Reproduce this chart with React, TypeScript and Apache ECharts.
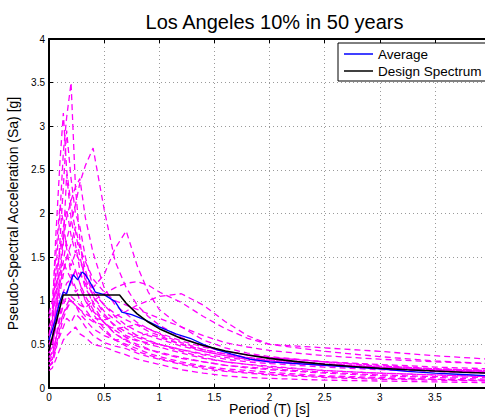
import React, { useEffect, useRef } from "react";
import * as echarts from "echarts";

const periods = [0, 0.03, 0.06, 0.1, 0.13, 0.16, 0.2, 0.24, 0.28, 0.33, 0.4, 0.5, 0.6, 0.7, 0.8, 0.9, 1.0, 1.2, 1.4, 1.6, 1.8, 2.0, 2.5, 3.0, 3.5, 4.0];

const rec01 = [0.55, 0.75, 1.3, 2.0, 2.7, 3.1, 3.5, 2.3, 1.7, 1.2, 0.95, 0.75, 0.62, 0.55, 0.5, 0.45, 0.4, 0.34, 0.3, 0.26, 0.23, 0.21, 0.17, 0.14, 0.12, 0.1];
const rec02 = [0.6, 0.85, 1.7, 2.6, 3.15, 2.5, 2.1, 1.8, 1.5, 1.25, 1.05, 0.85, 0.7, 0.6, 0.55, 0.5, 0.47, 0.4, 0.34, 0.3, 0.27, 0.25, 0.2, 0.17, 0.15, 0.13];
const rec03 = [0.4, 0.5, 0.95, 1.7, 2.3, 2.95, 2.4, 2.0, 1.85, 1.5, 1.15, 0.95, 0.85, 0.78, 0.72, 0.65, 0.6, 0.5, 0.42, 0.37, 0.33, 0.3, 0.26, 0.22, 0.2, 0.18];
const rec04 = [0.5, 0.55, 0.8, 1.2, 1.45, 1.7, 1.9, 2.1, 2.35, 2.55, 2.75, 2.05, 1.45, 1.15, 0.95, 0.82, 0.72, 0.58, 0.48, 0.42, 0.38, 0.35, 0.3, 0.25, 0.22, 0.2];
const rec05 = [0.45, 0.55, 0.9, 1.4, 1.7, 1.95, 2.15, 2.3, 2.4, 1.95, 1.55, 1.15, 0.95, 0.85, 0.75, 0.68, 0.62, 0.52, 0.44, 0.39, 0.35, 0.32, 0.27, 0.23, 0.21, 0.19];
const rec06 = [0.3, 0.33, 0.55, 0.85, 1.0, 1.1, 1.2, 1.35, 1.3, 1.2, 1.15, 1.3, 1.6, 1.8, 1.4, 1.1, 0.9, 0.7, 0.55, 0.46, 0.4, 0.36, 0.3, 0.26, 0.22, 0.2];
const rec07 = [0.85, 1.0, 1.5, 2.1, 1.9, 1.6, 1.3, 1.15, 1.0, 0.9, 0.78, 0.65, 0.55, 0.5, 0.45, 0.4, 0.36, 0.3, 0.25, 0.22, 0.2, 0.18, 0.14, 0.12, 0.1, 0.08];
const rec08 = [0.35, 0.42, 0.75, 1.1, 1.3, 1.5, 1.65, 1.85, 1.6, 1.45, 1.25, 1.1, 1.0, 0.95, 0.9, 0.85, 0.8, 0.7, 0.6, 0.52, 0.47, 0.43, 0.37, 0.33, 0.3, 0.28];
const rec09 = [0.3, 0.33, 0.45, 0.7, 0.85, 0.95, 1.05, 1.0, 0.95, 0.92, 1.0, 1.08, 1.15, 1.2, 1.22, 1.18, 1.1, 0.98, 0.82, 0.68, 0.57, 0.5, 0.46, 0.42, 0.37, 0.33];
const rec10 = [0.25, 0.28, 0.42, 0.65, 0.8, 0.9, 1.0, 0.95, 0.9, 0.85, 0.8, 0.78, 0.82, 0.88, 0.95, 1.0, 1.05, 1.08, 0.95, 0.76, 0.6, 0.5, 0.42, 0.36, 0.31, 0.28];
const rec11 = [0.2, 0.23, 0.32, 0.45, 0.55, 0.6, 0.65, 0.7, 0.62, 0.58, 0.5, 0.47, 0.42, 0.38, 0.33, 0.3, 0.27, 0.21, 0.17, 0.14, 0.12, 0.11, 0.09, 0.08, 0.07, 0.06];
const rec12 = [0.6, 0.7, 1.15, 1.6, 1.85, 2.05, 1.75, 1.55, 1.65, 1.35, 1.05, 0.88, 0.78, 0.68, 0.6, 0.55, 0.5, 0.42, 0.35, 0.3, 0.27, 0.24, 0.2, 0.17, 0.15, 0.13];
const rec13 = [0.7, 0.8, 1.15, 1.35, 1.45, 1.35, 1.25, 1.35, 1.2, 1.0, 0.88, 0.75, 0.66, 0.58, 0.54, 0.52, 0.5, 0.44, 0.38, 0.33, 0.3, 0.28, 0.24, 0.21, 0.19, 0.17];
const rec14 = [0.4, 0.48, 0.68, 0.95, 1.1, 1.2, 1.25, 1.1, 1.15, 1.0, 0.85, 0.68, 0.55, 0.48, 0.42, 0.38, 0.34, 0.28, 0.24, 0.2, 0.18, 0.16, 0.13, 0.11, 0.1, 0.09];
const rec15 = [0.5, 0.6, 0.85, 1.3, 1.65, 2.45, 1.95, 1.65, 1.35, 1.15, 0.98, 0.82, 0.72, 0.64, 0.58, 0.54, 0.5, 0.44, 0.39, 0.35, 0.32, 0.3, 0.26, 0.23, 0.2, 0.18];
const rec16 = [0.3, 0.38, 0.55, 0.8, 0.95, 1.05, 1.0, 0.95, 0.9, 0.82, 0.76, 0.72, 0.68, 0.7, 0.73, 0.68, 0.63, 0.54, 0.47, 0.42, 0.38, 0.35, 0.3, 0.27, 0.24, 0.22];
const rec17 = [0.8, 0.9, 1.3, 1.55, 1.75, 1.65, 1.5, 1.35, 1.2, 1.05, 0.9, 0.75, 0.62, 0.54, 0.48, 0.44, 0.41, 0.35, 0.3, 0.26, 0.24, 0.22, 0.18, 0.15, 0.13, 0.12];
const rec18 = [0.35, 0.4, 0.55, 0.75, 0.85, 0.92, 1.0, 0.95, 0.85, 0.78, 0.68, 0.6, 0.55, 0.56, 0.6, 0.62, 0.58, 0.5, 0.44, 0.39, 0.35, 0.32, 0.28, 0.24, 0.21, 0.19];
const rec19 = [0.25, 0.3, 0.5, 0.6, 0.7, 0.8, 0.75, 0.85, 0.8, 0.7, 0.6, 0.52, 0.48, 0.45, 0.4, 0.36, 0.33, 0.27, 0.22, 0.19, 0.17, 0.15, 0.12, 0.1, 0.09, 0.08];
const rec20 = [0.45, 0.55, 0.9, 1.2, 1.35, 1.5, 1.4, 1.55, 1.45, 1.3, 1.1, 0.95, 0.82, 0.72, 0.65, 0.6, 0.56, 0.48, 0.42, 0.37, 0.34, 0.31, 0.27, 0.24, 0.22, 0.2];

const records = [rec01, rec02, rec03, rec04, rec05, rec06, rec07, rec08, rec09, rec10, rec11, rec12, rec13, rec14, rec15, rec16, rec17, rec18, rec19, rec20];

const avgPeriods = [0, 0.05, 0.1, 0.13, 0.16, 0.19, 0.22, 0.26, 0.3, 0.33, 0.36, 0.42, 0.5, 0.6, 0.66, 0.75, 0.87, 1.0, 1.15, 1.28, 1.4, 1.52, 1.65, 1.82, 2.0, 2.25, 2.5, 2.75, 3.0, 3.25, 3.5, 3.75, 4.0];
const avgValues = [0.55, 0.75, 1.0, 1.1, 1.08, 1.2, 1.3, 1.24, 1.33, 1.3, 1.24, 1.1, 1.07, 0.99, 0.87, 0.84, 0.78, 0.7, 0.62, 0.57, 0.5, 0.44, 0.39, 0.33, 0.3, 0.28, 0.26, 0.24, 0.22, 0.19, 0.17, 0.155, 0.14];

const designPeriods = [0, 0.128, 0.64, 0.7, 0.8, 0.9, 1.0, 1.2, 1.4, 1.6, 1.8, 2.0, 2.25, 2.5, 2.75, 3.0, 3.25, 3.5, 3.75, 4.0];
const designValues = [0.43, 1.066, 1.066, 0.971, 0.85, 0.756, 0.68, 0.567, 0.486, 0.425, 0.378, 0.34, 0.302, 0.272, 0.247, 0.227, 0.209, 0.194, 0.181, 0.17];

const FONT = "Liberation Sans, Arial, Helvetica, sans-serif";

export default function App() {
  const ref = useRef<HTMLDivElement>(null);
  useEffect(() => {
    if (!ref.current) return;
    const chart = echarts.init(ref.current, undefined, { renderer: "svg" });
    const pair = (xs: number[], ys: number[]) => xs.map((x, i) => [x, ys[i]]);
    const recordSeries = records.map((r, i) => ({
      name: "rec" + (i + 1),
      type: "line",
      data: pair(periods, r),
      symbol: "none",
      silent: true,
      lineStyle: { color: "#ff00ff", width: 1.3, type: [6, 4] },
      z: 2,
    }));
    chart.setOption({
      animation: false,
      backgroundColor: "#ffffff",
      title: {
        text: "Los Angeles 10% in 50 years",
        left: 269.5,
        textAlign: "center",
        top: 7,
        textStyle: { fontFamily: FONT, fontSize: 20, fontWeight: "normal", color: "#000" },
      },
      graphic: [
        {
          type: "text",
          x: 269.5,
          y: 409,
          silent: true,
          style: {
            text: "Period (T) [s]",
            fontFamily: FONT,
            fontSize: 14,
            lineHeight: 14,
            fill: "#000",
            align: "center",
            verticalAlign: "middle",
          },
        },
      ],
      legend: {
        data: ["Average", "Design Spectrum"],
        orient: "vertical",
        left: 338,
        top: 43,
        padding: [2.5, 30, 1.5, 6],
        itemGap: 0,
        itemWidth: 29,
        itemHeight: 1.5,
        icon: "rect",
        backgroundColor: "#ffffff",
        borderColor: "#000",
        borderWidth: 1,
        borderRadius: 0,
        textStyle: { fontFamily: FONT, fontSize: 13.5, color: "#000", lineHeight: 17 },
      },
      grid: { left: 49, top: 39, width: 441, height: 349, containLabel: false, outerBoundsMode: "none" },
      xAxis: [
        {
          type: "value",
          min: 0,
          max: 4,
          interval: 0.5,
          position: "bottom",
          axisLine: { show: true, onZero: false, lineStyle: { color: "#000", width: 2 } },
          axisTick: { show: true, inside: true, length: 4, lineStyle: { color: "#000", width: 1 } },
          axisLabel: { fontFamily: FONT, fontSize: 10, lineHeight: 10, color: "#000", margin: 4, showMaxLabel: false },
          splitLine: { show: true, lineStyle: { color: "#9a9a9a", width: 1, type: [1, 3] } },
        },
        {
          type: "value",
          min: 0,
          max: 4,
          interval: 0.5,
          position: "top",
          axisLine: { show: true, onZero: false, lineStyle: { color: "#000", width: 2 } },
          axisTick: { show: true, inside: true, length: 4, lineStyle: { color: "#000", width: 1 } },
          axisLabel: { show: false },
          splitLine: { show: false },
        },
      ],
      yAxis: {
        type: "value",
        min: 0,
        max: 4,
        interval: 0.5,
        name: "Pseudo-Spectral Acceleration (Sa) [g]",
        nameLocation: "middle",
        nameGap: 22,
        nameTextStyle: { fontFamily: FONT, fontSize: 14, color: "#000" },
        axisLine: { show: true, onZero: false, lineStyle: { color: "#000", width: 2 } },
        axisTick: { show: true, inside: true, length: 4, lineStyle: { color: "#000", width: 1 } },
        axisLabel: { fontFamily: FONT, fontSize: 10, color: "#000", margin: 4 },
        splitLine: { show: true, lineStyle: { color: "#9a9a9a", width: 1, type: [1, 3] } },
      },
      series: [
        ...recordSeries,
        {
          name: "Average",
          type: "line",
          data: pair(avgPeriods, avgValues),
          symbol: "none",
          lineStyle: { color: "#0000ff", width: 1.3 },
          itemStyle: { color: "#0000ff" },
          z: 3,
        },
        {
          name: "Design Spectrum",
          type: "line",
          data: pair(designPeriods, designValues),
          symbol: "none",
          lineStyle: { color: "#000000", width: 1.6 },
          itemStyle: { color: "#000000" },
          z: 4,
        },
      ],
    });
    return () => chart.dispose();
  }, []);
  return (
    <div
      ref={ref}
      style={{ position: "fixed", left: 0, top: 0, width: 485, height: 417, background: "#fff" }}
    />
  );
}
